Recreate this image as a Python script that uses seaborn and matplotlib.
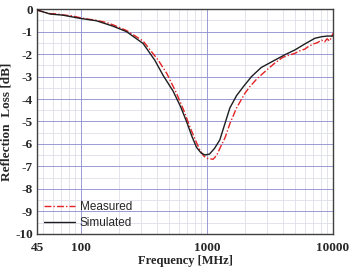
import numpy as np
import pandas as pd
import seaborn as sns
import matplotlib.pyplot as plt
from matplotlib.ticker import FixedLocator, LogLocator, NullFormatter, MultipleLocator

# values
sim_freq = [45, 57, 72, 98, 133, 180, 230, 312, 386, 450, 540, 620, 690, 760, 828, 900,
            964, 1050, 1150, 1268, 1400, 1523, 1721, 1950, 2264, 2700, 3467, 4200,
            4990, 6000, 7194, 8130, 9000, 10000]
sim_loss = [-0.04, -0.22, -0.27, -0.41, -0.52, -0.76, -1.0, -1.53, -2.27, -2.95, -3.65,
            -4.35, -5.0, -5.65, -6.15, -6.4, -6.49, -6.45, -6.2, -5.82, -5.05, -4.4,
            -3.85, -3.45, -3.0, -2.6, -2.27, -2.02, -1.82, -1.55, -1.3, -1.23, -1.2, -1.2]

meas_freq = [45, 57, 65, 72, 85, 98, 115, 133, 160, 180, 230, 312, 411, 480, 575, 650,
             733, 800, 880, 950, 1020, 1122, 1200, 1268, 1400, 1523, 1721, 2003, 2194,
             2500, 3000, 3467, 4000, 4500, 4990, 5500, 6000, 6338, 7000, 7500, 8130,
             8600, 9000, 9400, 9770, 10000]
meas_loss = [-0.05, -0.2, -0.22, -0.26, -0.3, -0.38, -0.45, -0.5, -0.6, -0.7, -0.95,
             -1.42, -2.27, -2.85, -3.75, -4.45, -5.23, -5.75, -6.27, -6.55, -6.65, -6.68,
             -6.5, -6.2, -5.7, -5.1, -4.4, -3.75, -3.45, -3.1, -2.7, -2.4, -2.15, -2.05,
             -1.97, -1.85, -1.78, -1.68, -1.55, -1.5, -1.38, -1.46, -1.32, -1.42, -1.25, -1.08]

sim = pd.DataFrame({"freq": sim_freq, "loss": sim_loss})
meas = pd.DataFrame({"freq": meas_freq, "loss": meas_loss})

sns.set_style("white")
plt.rcParams["font.family"] = ["Liberation Serif", "DejaVu Serif"]

fig = plt.figure(figsize=(3.5, 2.67), dpi=100)
ax = fig.add_axes([0.106, 0.124, 0.845, 0.842])

sns.lineplot(data=meas, x="freq", y="loss", ax=ax, color="#e32222", lw=1.0,
             linestyle=(0, (5, 1.5, 1, 1.5)), label="Measured", zorder=3)
sns.lineplot(data=sim, x="freq", y="loss", ax=ax, color="#1e1e1e", lw=1.0,
             label="Simulated", zorder=4)

ax.set_xscale("log")
ax.set_xlim(45, 10000)
ax.set_ylim(-10, 0)

ax.xaxis.set_major_locator(FixedLocator([45, 100, 1000, 10000]))
ax.set_xticklabels(["45", "100", "1000", "10000"])
ax.xaxis.set_minor_locator(LogLocator(base=10, subs=np.arange(2, 10)))
ax.xaxis.set_minor_formatter(NullFormatter())
ax.yaxis.set_major_locator(MultipleLocator(1))
ax.yaxis.set_minor_locator(MultipleLocator(0.5))
ax.set_yticklabels([str(int(v)) for v in ax.get_yticks()])

# grid: blue major lines, faint minor ones
ax.grid(which="minor", color="#dedee9", lw=0.6)
ax.grid(which="major", color="#8c8cd0", lw=0.6)
for v in [100, 1000]:
    ax.axvline(v, color="#8c8cd0", lw=0.6, zorder=1)
ax.xaxis.grid(False, which="major")
ax.set_axisbelow(True)

ax.tick_params(which="both", direction="in", top=False, right=False)
ax.tick_params(which="major", length=3, width=0.8, labelsize=9.5)
ax.tick_params(axis="x", which="major", pad=6)
ax.tick_params(axis="y", which="major", pad=3)
ax.tick_params(which="minor", length=2, width=0.6)
for lab in ax.get_xticklabels() + ax.get_yticklabels():
    lab.set_fontweight("bold")

for s in ax.spines.values():
    s.set_color("#404040")
    s.set_linewidth(1.0)

ax.set_xlabel("Frequency [MHz]", fontsize=9, fontweight="bold")
ax.xaxis.set_label_coords(0.5, -0.095)
ax.set_ylabel("Reflection  Loss [dB]", fontsize=9.5, fontweight="bold", labelpad=2)

leg = ax.legend(loc="lower left", bbox_to_anchor=(0.0, -0.01), frameon=False,
                prop={"family": "Liberation Sans", "size": 8.5}, handlelength=2.6,
                handletextpad=0.4, labelspacing=0.35, borderaxespad=0.2)

fig.savefig("out.png", dpi=100)
